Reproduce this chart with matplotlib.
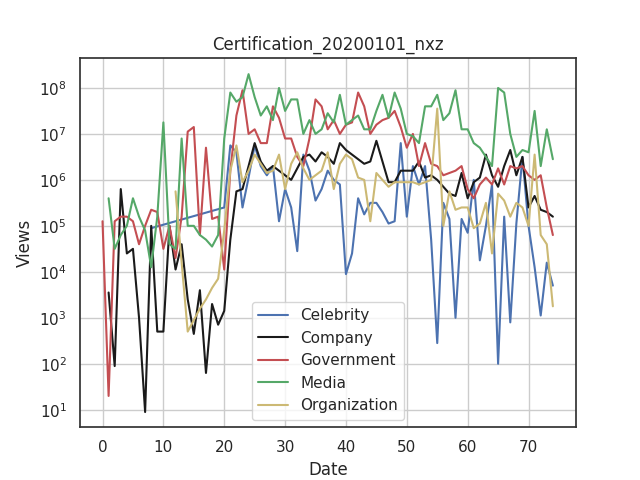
import numpy as np
import matplotlib
matplotlib.use('Agg')
import matplotlib.pyplot as plt
import seaborn as sns

nan = np.nan
dates = np.arange(75)

# log10 of views
celebrity = [nan]*8 + [4.95] + [nan]*11 + [5.4,
    6.75, 6.6, 5.4, 6.05, 6.75, 6.3, 6.1, 6.3, 5.1, 5.8,
    5.4, 4.45, 6.55, 6.2, 5.55, 5.8, 6.2, 6.0, 5.9, 3.95,
    4.4, 5.6, 5.25, 5.5, 5.5, 5.3, 5.05, 5.1, 6.8, 5.2,
    6.3, 5.9, 6.3, 4.7, 2.45, 5.5, 5.15, 3.0, 5.15, 4.85,
    6.0, 4.25, 5.0, 5.9, 2.0, 5.2, 2.9, 5.05, 6.5, 5.0,
    4.1, 3.05, 4.2, 3.7]
company = [nan, 3.55, 1.95, 5.8, 4.4, 4.5, 3.0, 0.95, 5.0, 2.7,
    2.7, 5.0, 4.05, 4.6, 3.4, 2.65, 3.6, 1.8, 3.3, 2.85,
    3.15, 4.7, 5.75, 5.8, 6.3, 6.8, 6.4, 6.2, 6.3, 6.2,
    6.1, 6.0, 6.25, 6.5, 6.55, 6.4, 6.6, 6.5, 6.35, 6.8,
    6.65, 6.55, 6.45, 6.35, 6.4, 6.85, 6.4, 5.95, 5.95, 6.2,
    6.2, 6.2, 6.4, 6.05, 6.1, 6.0, 5.85, 5.7, 5.65, 6.15,
    5.6, 5.95, 6.05, 6.55, 6.1, 5.85, 6.3, 6.65, 6.1, 6.5,
    5.4, 5.65, 5.35, 5.3, 5.2]
government = [5.1, 1.3, 5.1, 5.2, 5.2, 5.1, 4.6, 5.0, 5.35, 5.3,
    4.5, 5.0, 4.3, 5.2, 7.05, 7.15, 4.8, 6.7, 5.15, 5.2,
    4.05, 6.2, 7.4, 7.95, 7.0, 7.1, 6.8, 6.8, 7.6, 7.35,
    6.9, 6.9, 6.5, 6.3, 6.9, 7.75, 7.6, 7.1, 7.3, 7.0,
    7.2, 7.25, 7.9, 7.6, 7.0, 7.2, 7.3, 7.35, 7.5, 7.15,
    6.7, 7.0, 6.3, 6.8, 6.35, 6.3, 6.1, 6.15, 6.2, 6.3,
    5.8, 5.6, 5.9, 6.05, 5.9, 6.25, 5.9, 6.3, 6.25, 6.3,
    6.1, 6.0, 6.1, 5.4, 4.8]
media = [nan, 5.6, 4.5, 4.8, 5.0, 5.6, 5.2, 4.9, 4.1, 5.2,
    7.25, 4.6, 4.5, 6.9, 5.0, 5.0, 4.8, 4.7, 4.55, 4.8,
    6.9, 7.9, 7.7, 7.8, 8.3, 7.8, 7.4, 7.6, 7.3, 8.0,
    7.5, 7.75, 7.75, 7.0, 7.3, 7.0, 7.1, 7.45, 7.25, 7.85,
    7.2, 7.3, 7.4, 7.1, 7.1, 7.5, 7.85, 7.35, 7.9, 7.55,
    7.0, 6.95, 6.8, 7.6, 7.6, 7.85, 7.3, 7.45, 7.95, 7.1,
    7.1, 6.8, 6.7, 6.5, 6.3, 8.0, 7.9, 7.0, 6.5, 6.65,
    6.6, 7.5, 6.3, 7.1, 6.45]
organization = [nan]*12 + [5.75, 4.2, 2.7, 2.95, 3.2, 3.4, 3.65, 3.85,
    4.9, 6.2, 6.75, 5.95, 6.2, 6.55, 6.35, 6.15, 6.2, 6.55,
    5.8, 6.35, 6.6, 6.25, 6.0, 6.1, 6.2, 6.6, 5.8, 6.35,
    6.55, 6.45, 6.05, 6.0, 5.1, 6.15, 6.0, 5.85, 5.95, 5.95,
    5.95, 5.95, 5.9, 5.95, 6.0, 7.55, 5.0, 5.75, 5.35, 5.4,
    5.4, 4.95, 5.05, 5.5, 4.4, 5.7, 5.55, 5.2, 5.5, 5.4,
    5.0, 6.55, 4.8, 4.6, 3.25]

series = {'Celebrity': (celebrity, 'b'), 'Company': (company, 'k'),
          'Government': (government, 'r'), 'Media': (media, 'g'),
          'Organization': (organization, 'y')}

sns.set_theme(style='white')
sns.set_color_codes('deep')
fig, ax = plt.subplots(figsize=(6.4, 4.8), dpi=100)
for name, (vals, c) in series.items():
    v = np.array(vals, dtype=float)
    m = ~np.isnan(v)
    ax.plot(dates[m], 10 ** v[m], color=c, label=name)
ax.set_yscale('log')
ax.set_ylim(10 ** 0.62, 10 ** 8.66)
ax.set_xlim(-3.7, 77.8)
ax.grid(True, color='#cccccc')
for s in ax.spines.values():
    s.set_color('#333333')
ax.set_title('Certification_20200101_nxz')
ax.set_xlabel('Date')
ax.set_ylabel('Views')
ax.legend(loc='lower center')
fig.savefig('out.png')
